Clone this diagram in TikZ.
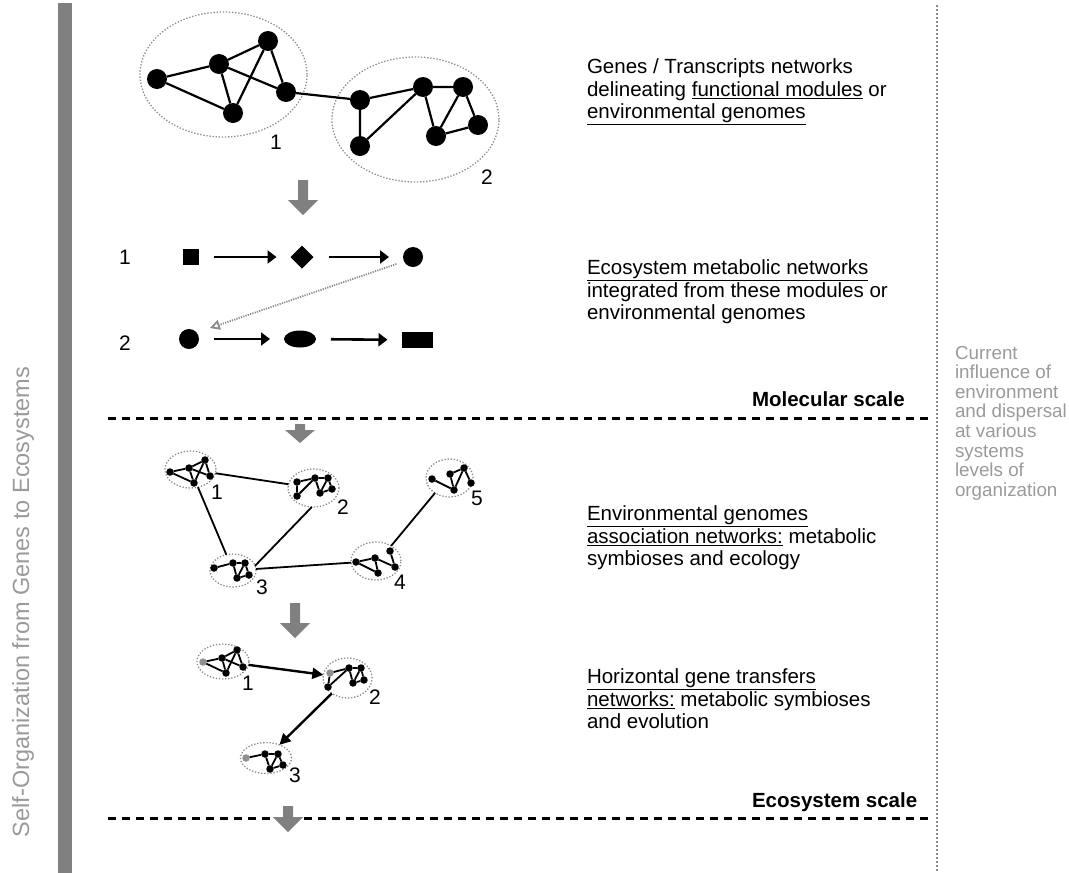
\documentclass[tikz,border=0pt]{standalone}
\usepackage{fontspec}
\setmainfont{Liberation Sans}
\usetikzlibrary{arrows.meta,shapes.geometric}
\definecolor{bargray}{HTML}{808080}
\definecolor{txtgray}{HTML}{9A9A9A}
\definecolor{dotgray}{HTML}{8A8A8A}
\definecolor{nodegray}{HTML}{909090}
\newcommand\grayArrow[4]{\fill[bargray] (#1-5,#2) -- (#1+5,#2) -- (#1+5,#3) -- (#1+15,#3) -- (#1,#4) -- (#1-15,#3) -- (#1-5,#3) -- cycle;}
\begin{document}
\begin{tikzpicture}[x=1pt,y=-1pt,
 every node/.style={inner sep=0pt,outer sep=0pt},
 bignode/.style={circle,fill=black,minimum size=20pt},
 smnode/.style={circle,fill=black,minimum size=7.5pt},
 gnode/.style={circle,fill=nodegray,minimum size=7.5pt},
 bigedge/.style={line width=2.2pt},
 smedge/.style={line width=1.8pt},
 grp/.style={ellipse,draw=dotgray,line width=1.3pt,dash pattern=on 1.3pt off 1.8pt},
 num/.style={font=\fontsize{21}{23}\selectfont},
 body/.style={font=\fontsize{20.5}{22.5}\selectfont,align=left,anchor=north west},
 scaletxt/.style={font=\fontsize{20.5}{22.5}\selectfont\bfseries,anchor=base west},
 flow/.style={line width=2.6pt,-{Triangle[length=9pt,width=13pt]},shorten <=15pt,shorten >=14pt},
 hgt/.style={line width=2.4pt,-{Triangle[length=11pt,width=11pt]}},
 scaleline/.style={line width=3pt,dash pattern=on 8pt off 6pt},
]
\useasboundingbox (0,0) rectangle (1069,873);

% left bar and vertical title
\fill[bargray] (58,3) rectangle (72,873);
\node[rotate=90,text=txtgray,font=\fontsize{23.5}{26}\selectfont] (title) at (23,602) {Self-Organization from Genes to Ecosystems};

% right dotted line
\coordinate (rtop) at (937,5);
\coordinate (rbot) at (937,873);
\draw[dotgray,line width=1.5pt,dash pattern=on 1.5pt off 2.5pt] (rtop) -- (rbot);
\node[anchor=north west,align=left,text=txtgray,font=\fontsize{18.8}{19.6}\selectfont] (infl) at (955,346)
 {Current\\influence of\\environment\\and dispersal\\at various\\systems\\levels of\\organization};

% ---------- top gene network ----------
\node[grp,minimum width=167pt,minimum height=125pt] (g1) at (223.5,74.5) {};
\node[grp,minimum width=167pt,minimum height=125pt] (g2) at (415.5,119.5) {};
\node[bignode] (A) at (157,79) {};
\node[bignode] (B) at (219,64) {};
\node[bignode] (C) at (268,41) {};
\node[bignode] (D) at (286,92) {};
\node[bignode] (E) at (233,113) {};
\node[bignode] (F) at (360,100) {};
\node[bignode] (G) at (360,146) {};
\node[bignode] (H) at (423,87) {};
\node[bignode] (I) at (463,87) {};
\node[bignode] (J) at (436,136) {};
\node[bignode] (K) at (478,125) {};
\draw[bigedge] (A)--(B) (A)--(E) (B)--(C) (B)--(E) (B)--(D) (C)--(D) (C)--(E) (D)--(F)
 (F)--(G) (F)--(H) (G)--(H) (H)--(I) (H)--(J) (I)--(J) (I)--(K) (J)--(K);
\node[num] (n1) at (276,142) {1};
\node[num] (n2) at (487,177) {2};

\grayArrow{303}{180}{200}{215}

% ---------- metabolic networks ----------
\node[num] (r1) at (125,257) {1};
\node[num] (r2) at (125,343) {2};
\node[fill=black,minimum size=16pt] (sq) at (191,257) {};
\node[diamond,fill=black,minimum size=23pt] (dm) at (302,257) {};
\node[circle,fill=black,minimum size=20pt] (c1) at (413,257) {};
\node[circle,fill=black,minimum size=20pt] (c2) at (189,339) {};
\node[ellipse,fill=black,minimum width=32pt,minimum height=17pt] (el) at (300,339) {};
\node[fill=black,minimum width=31pt,minimum height=16pt] (rc) at (417,340) {};
\draw[flow] (sq) -- (dm);
\draw[flow] (dm) -- (c1);
\draw[flow] (c2) -- (el);
\draw[flow] (el) -- (rc);
\draw[dotgray,line width=1.8pt,dash pattern=on 1.2pt off 1.2pt,-{Triangle[open,length=10pt,width=10pt]},shorten <=8pt,shorten >=14pt] (c1.206) -- (c2.40);

% text blocks
\node[body] (t1) at (587,59) {Genes / Transcripts networks\\delineating \underline{functional modules} or\\\underline{environmental genomes}};
\node[body] (t2) at (587,260) {\underline{Ecosystem metabolic networks}\\integrated from these modules or\\environmental genomes};
\node[body] (t3) at (587,506) {\underline{Environmental genomes}\\\underline{association networks:} metabolic\\symbioses and ecology};
\node[body] (t4) at (587,669) {\underline{Horizontal gene transfers}\\\underline{networks:} metabolic symbioses\\and evolution};

% molecular scale
\node[scaletxt] (mol) at (752,406) {Molecular scale};
\coordinate (m0) at (108,418);
\coordinate (m1) at (930,418);
\draw[scaleline] (m0) -- (m1);
\grayArrow{300}{424}{430}{443}

% ---------- ecological association networks ----------
\node[grp,minimum width=51pt,minimum height=37pt] (E1) at (190.5,469.5) {};
\node[grp,minimum width=51pt,minimum height=38pt] (E2) at (313.5,488) {};
\node[grp,minimum width=46pt,minimum height=33pt] (E3) at (233,570.5) {};
\node[grp,minimum width=50pt,minimum height=38pt] (E4) at (376,561) {};
\node[grp,minimum width=47pt,minimum height=38pt] (E5) at (449.5,478) {};
% cluster 1
\node[smnode] (e1a) at (170,472) {};
\node[smnode] (e1b) at (189,468) {};
\node[smnode] (e1c) at (205,460) {};
\node[smnode] (e1d) at (210,476) {};
\node[smnode] (e1e) at (194,483) {};
\draw[smedge] (e1a)--(e1b) (e1a)--(e1e) (e1b)--(e1c) (e1b)--(e1e) (e1b)--(e1d) (e1c)--(e1d) (e1c)--(e1e);
% cluster 2
\node[smnode] (e2f) at (297,482) {};
\node[smnode] (e2g) at (297,496) {};
\node[smnode] (e2h) at (315,478) {};
\node[smnode] (e2i) at (328,478) {};
\node[smnode] (e2j) at (320,493) {};
\node[smnode] (e2k) at (332,489) {};
\draw[smedge] (e2f)--(e2g) (e2f)--(e2h) (e2g)--(e2h) (e2h)--(e2i) (e2h)--(e2j) (e2i)--(e2j) (e2i)--(e2k) (e2j)--(e2k);
% cluster 3
\node[smnode] (e3a) at (214,568) {};
\node[smnode] (e3b) at (233,563) {};
\node[smnode] (e3c) at (245,563) {};
\node[smnode] (e3d) at (237,578) {};
\node[smnode] (e3e) at (249,575) {};
\draw[smedge] (e3a)--(e3b) (e3b)--(e3c) (e3b)--(e3d) (e3c)--(e3d) (e3c)--(e3e) (e3d)--(e3e);
% cluster 4
\node[smnode] (e4a) at (356,562) {};
\node[smnode] (e4b) at (375,558) {};
\node[smnode] (e4c) at (378,573) {};
\node[smnode] (e4d) at (390,551) {};
\node[smnode] (e4e) at (395,567) {};
\draw[smedge] (e4a)--(e4b) (e4a)--(e4c) (e4b)--(e4c) (e4b)--(e4e) (e4d)--(e4e);
% cluster 5
\node[smnode] (e5a) at (432,479) {};
\node[smnode] (e5b) at (450,474) {};
\node[smnode] (e5c) at (464,468) {};
\node[smnode] (e5d) at (454,490) {};
\node[smnode] (e5e) at (471,483) {};
\draw[smedge] (e5a)--(e5d) (e5b)--(e5c) (e5b)--(e5d) (e5c)--(e5d) (e5c)--(e5e);
% links
\draw[smedge] (E1) -- (E2);
\draw[smedge] (E1) -- (E3);
\draw[smedge] (E2.265) -- (E3.12);
\draw[smedge] (E3) -- (E4);
\draw[smedge] (E4.45) -- (E5.226);
\node[num] (k1) at (217,492) {1};
\node[num] (k2) at (343,507) {2};
\node[num] (k3) at (262,587) {3};
\node[num] (k4) at (400,582) {4};
\node[num] (k5) at (477,498) {5};

\grayArrow{295}{603}{623}{638}

% ---------- HGT networks ----------
\node[grp,minimum width=52pt,minimum height=35pt] (H1) at (223,661.5) {};
\node[grp,minimum width=49pt,minimum height=40pt] (H2) at (347.5,678) {};
\node[grp,minimum width=51pt,minimum height=31pt] (H3) at (266,758) {};
\node[gnode] (h1g) at (203,662) {};
\node[smnode] (h1b) at (222,658) {};
\node[smnode] (h1c) at (237,650) {};
\node[smnode] (h1d) at (243,667) {};
\node[smnode] (h1e) at (226,673) {};
\draw[smedge] (h1g)--(h1b) (h1g)--(h1e) (h1b)--(h1c) (h1b)--(h1e) (h1b)--(h1d) (h1c)--(h1d) (h1c)--(h1e);
\node[gnode] (h2f) at (330,673) {};
\node[smnode] (h2g) at (328,687) {};
\node[smnode] (h2h) at (349,668) {};
\node[smnode] (h2i) at (361,668) {};
\node[smnode] (h2j) at (353,683) {};
\node[smnode] (h2k) at (364,680) {};
\draw[smedge] (h2f)--(h2g) (h2f)--(h2h) (h2g)--(h2h) (h2h)--(h2i) (h2h)--(h2j) (h2i)--(h2j) (h2i)--(h2k) (h2j)--(h2k);
\node[gnode] (h3g) at (246,758) {};
\node[smnode] (h3b) at (265,754) {};
\node[smnode] (h3c) at (278,754) {};
\node[smnode] (h3d) at (270,769) {};
\node[smnode] (h3e) at (283,765) {};
\draw[smedge] (h3g)--(h3b) (h3b)--(h3c) (h3b)--(h3d) (h3c)--(h3d) (h3c)--(h3e) (h3d)--(h3e);
\draw[hgt] (H1) -- (H2);
\draw[hgt] (H2) -- (H3);
\node[num] (q1) at (248,683) {1};
\node[num] (q2) at (375,697) {2};
\node[num] (q3) at (295,775) {3};

% ecosystem scale
\node[scaletxt] (eco) at (752,807) {Ecosystem scale};
\coordinate (s0) at (108,818);
\coordinate (s1) at (930,818);
\draw[scaleline] (s0) -- (s1);
\grayArrow{288}{806}{817}{832}
\end{tikzpicture}
\end{document}
